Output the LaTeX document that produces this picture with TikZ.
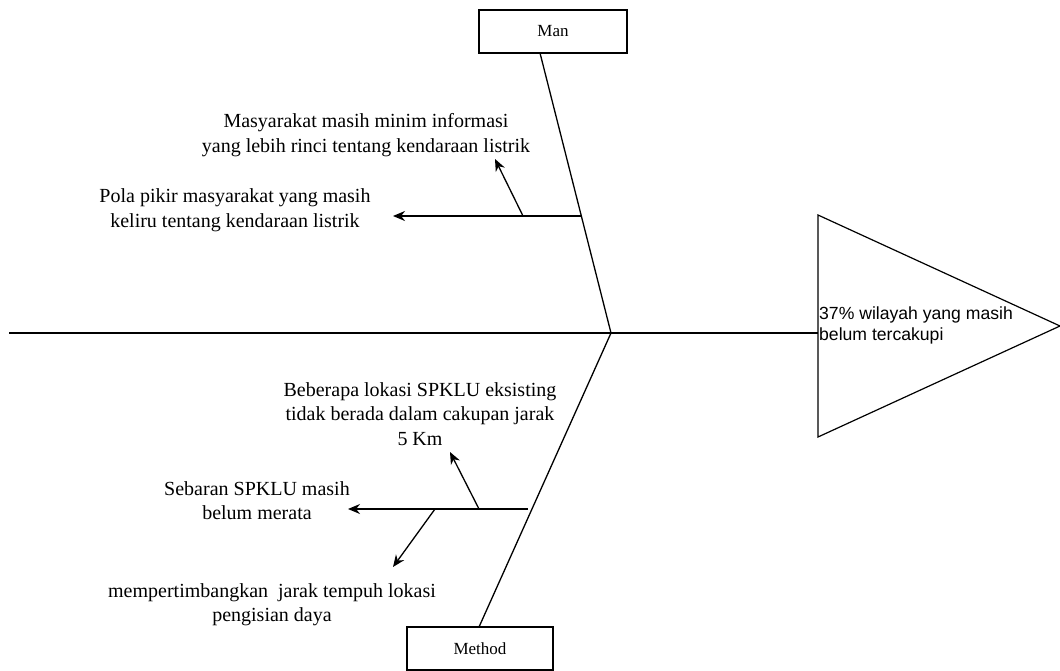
\documentclass[tikz,border=0pt]{standalone}
\usepackage{fontspec}
\setmainfont{Liberation Serif}
\newfontfamily\effectfont{Liberation Sans}
\usepackage{tikz}
\usetikzlibrary{arrows.meta,positioning}

\begin{document}
\begin{tikzpicture}[x=1pt,y=-1pt,
    catbox/.style={draw, line width=1.2pt, minimum width=148pt, minimum height=43pt, inner sep=0pt, font=\fontsize{17}{20}\selectfont},
    causetext/.style={align=center, inner sep=0pt, font=\fontsize{20}{24.5}\selectfont},
    bone/.style={line width=1.3pt},
    twig/.style={line width=1.3pt, -{Stealth[length=12pt,width=10pt]}}]
    \useasboundingbox (0,0) rectangle (1060,671);

    % head of the fish
    \coordinate (triTop) at (818,215);
    \coordinate (triTip) at (1060,326);
    \coordinate (triBot) at (818,437);
    \draw[line width=1.2pt] (triTop) -- (triTip) -- (triBot) -- cycle;
    \node[anchor=west, align=left, inner sep=0pt, font=\effectfont\fontsize{17.6}{21}\selectfont] (effect) at (819,325) {37\% wilayah yang masih\\belum tercakupi};

    % spine
    \coordinate (tail) at (9,333);
    \coordinate (joint) at (611,333);
    \coordinate (spineEnd) at (818,333);
    \draw[bone] (tail) -- (spineEnd);

    % categories
    \node[catbox] (man) at (553,31.5) {Man};
    \node[catbox, minimum width=146pt] (method) at (480,648.5) {Method};
    \coordinate (manFoot) at (540,53);
    \coordinate (methodTop) at (479,627);
    \draw[bone] (manFoot) -- (joint);
    \draw[bone] (joint) -- (methodTop);

    % causes of Man
    \node[causetext] (infoMin) at (366,135) {Masyarakat masih minim informasi\\yang lebih rinci tentang kendaraan listrik};
    \node[causetext] (polaPikir) at (235,210) {Pola pikir masyarakat yang masih\\keliru tentang kendaraan listrik};
    \coordinate (manRib) at (581.5,216);
    \coordinate (manRibEnd) at (393,216);
    \coordinate (manTwig) at (523,216);
    \coordinate (manTwigEnd) at (495,159);
    \draw[twig] (manRib) -- (manRibEnd);
    \draw[twig] (manTwig) -- (manTwigEnd);

    % causes of Method
    \node[causetext] (lokasi) at (420,414) {Beberapa lokasi SPKLU eksisting\\tidak berada dalam cakupan jarak\\5 Km};
    \node[causetext] (sebaran) at (257,500.5) {Sebaran SPKLU masih\\belum merata};
    \node[causetext] (jarak) at (272,604.5) {mempertimbangkan \ jarak tempuh lokasi\\pengisian daya};
    \coordinate (methRib) at (528,509);
    \coordinate (methRibEnd) at (348,509);
    \coordinate (methTwigUp) at (479,509);
    \coordinate (methTwigUpEnd) at (450,452);
    \coordinate (methTwigDown) at (435,509);
    \coordinate (methTwigDownEnd) at (393,567);
    \draw[twig] (methRib) -- (methRibEnd);
    \draw[twig] (methTwigUp) -- (methTwigUpEnd);
    \draw[twig] (methTwigDown) -- (methTwigDownEnd);
\end{tikzpicture}
\end{document}
